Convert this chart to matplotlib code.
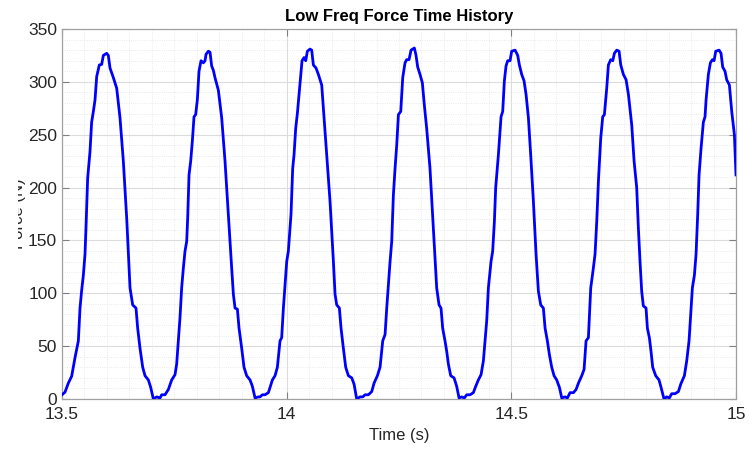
import matplotlib
matplotlib.use("Agg")
import matplotlib.pyplot as plt
from matplotlib.ticker import MultipleLocator
from matplotlib.patches import Rectangle

plt.rcParams['font.family'] = ['Liberation Sans', 'DejaVu Sans']

# values
time_s = [
    13.5, 13.5067, 13.5141, 13.5215, 13.5289, 13.5364, 13.5401, 13.5438, 13.5475, 13.5512,
    13.5534, 13.5571, 13.5623, 13.566, 13.5698, 13.5735, 13.5772, 13.5831, 13.5883, 13.592,
    13.5994, 13.6031, 13.6069, 13.6143, 13.6217, 13.6291, 13.6365, 13.644, 13.6514, 13.6573,
    13.6647, 13.6684, 13.6736, 13.6796, 13.6848, 13.6922, 13.6974, 13.7033, 13.7107, 13.7182,
    13.7219, 13.7293, 13.7367, 13.7441,
    13.7515, 13.7552, 13.7589, 13.7626, 13.7663, 13.7701, 13.7738, 13.7775, 13.7797, 13.7827,
    13.7864, 13.7901, 13.7938, 13.7975, 13.8012, 13.8049, 13.8094, 13.8146, 13.8183, 13.8205,
    13.8257, 13.8294, 13.8331, 13.8368, 13.8405, 13.848, 13.8554, 13.8628, 13.8702, 13.8776,
    13.8814, 13.8851, 13.8903, 13.894, 13.8999, 13.9051, 13.911, 13.9185, 13.9237, 13.9296,
    13.937, 13.9407, 13.9459, 13.9518, 13.9593, 13.963, 13.9682, 13.9741, 13.9793, 13.9852,
    13.9889, 13.9927, 13.9964, 14.0001, 14.0038,
    14.0097, 14.0134, 14.0164, 14.0201, 14.0238, 14.0275, 14.0312, 14.0342, 14.0387, 14.0424,
    14.0461, 14.052, 14.0557, 14.0594, 14.0654, 14.0706, 14.078, 14.0817, 14.0891, 14.0965,
    14.104, 14.1077, 14.1114, 14.1173, 14.121, 14.1262, 14.1314, 14.1374, 14.1448, 14.15,
    14.1559, 14.1633, 14.1693, 14.1745, 14.1819, 14.1893, 14.1945, 14.2019, 14.2078, 14.2138,
    14.219, 14.2227, 14.2264, 14.2301, 14.2338, 14.2375, 14.2412, 14.2449, 14.2487, 14.2539,
    14.2583,
    14.2634, 14.2671, 14.2723, 14.2768, 14.2842, 14.2879, 14.2916, 14.2968, 14.302, 14.3064,
    14.3116, 14.319, 14.3265, 14.3339, 14.3391, 14.3435, 14.3472, 14.3524, 14.3562, 14.3599,
    14.3651, 14.3725, 14.3784, 14.3836, 14.3895, 14.3955, 14.4007, 14.4081, 14.4155, 14.4207,
    14.4266, 14.4326, 14.4378, 14.4415, 14.4452, 14.4489, 14.4548, 14.4585, 14.4623, 14.4652,
    14.4712, 14.4771, 14.4808, 14.4845, 14.4882, 14.4919, 14.4971, 14.5008, 14.5083, 14.5142,
    14.5179,
    14.5231, 14.5283, 14.5328, 14.538, 14.5431, 14.5491, 14.555, 14.5602, 14.5654, 14.5713,
    14.5751, 14.5802, 14.5847, 14.5899, 14.5951, 14.601, 14.607, 14.6122, 14.6196, 14.6248,
    14.6307, 14.6381, 14.6441, 14.6493, 14.6567, 14.6619, 14.6663, 14.6715, 14.6767, 14.6826,
    14.6863, 14.6901, 14.6938, 14.699, 14.7034, 14.7071, 14.7123, 14.716, 14.7212, 14.7257,
    14.7294, 14.7346, 14.7398, 14.7435, 14.7494, 14.7554, 14.7606, 14.768, 14.7732,
    14.779, 14.7827, 14.7864, 14.7901, 14.7938, 14.7998, 14.8028, 14.8072, 14.8109,
    14.8146, 14.8213, 14.8287, 14.8332, 14.8398, 14.8458, 14.8517, 14.8569, 14.8643, 14.8718,
    14.877, 14.8851, 14.8903, 14.8955, 14.8992, 14.9029, 14.9074, 14.9111, 14.9148, 14.9178,
    14.9222, 14.9274, 14.9311, 14.9334, 14.9385, 14.943, 14.9475, 14.9512, 14.9549, 14.9623,
    14.9667, 14.9704, 14.9756, 14.9793, 14.9853, 14.9905, 14.9964, 15.0,
]
force_n = [
    4, 6.5, 15, 21.5, 39, 55, 86, 103, 117, 137,
    162, 209, 234, 262, 272, 283, 305, 316, 316.5, 325,
    327, 325, 313, 304, 294, 266, 225, 171, 105, 89,
    86, 67, 48, 30, 22, 18, 11, 0, 2, 1,
    4, 4, 9, 18,
    23, 33, 55, 77, 105, 124, 140, 149, 171, 212,
    225, 244, 267, 269, 283, 310, 320, 318, 320, 326,
    329, 328, 315, 311, 304, 292, 266, 225, 174, 124,
    99, 86, 85, 67, 48, 30, 22, 18, 12, 1,
    2, 2, 4, 4, 6, 11, 18, 22, 30, 55,
    58, 86, 108, 130, 140,
    175, 218, 231, 256, 270, 288, 307, 320, 323, 320,
    329, 331, 330, 316, 313, 307, 297, 275, 231, 187,
    130, 99, 89, 86, 67, 48, 30, 22, 20, 14,
    0, 2, 2, 4, 4, 7, 15, 22, 30, 55,
    61, 86, 108, 130, 149, 193, 218, 240, 269, 272,
    304,
    318, 321, 321, 330, 332, 325, 314, 307, 299, 278,
    256, 218, 162, 105, 89, 86, 67, 55, 45, 33,
    22, 20, 12, 1, 2, 1, 4, 4, 6, 12,
    18, 23, 36, 55, 74, 105, 130, 140, 168, 200,
    231, 267, 272, 301, 315, 320, 320, 329, 330, 325,
    316,
    307, 301, 288, 266, 231, 187, 137, 102, 89, 86,
    67, 55, 42, 30, 22, 18, 11, 1, 2, 1,
    6, 6, 9, 15, 22, 28, 55, 58, 105, 124,
    137, 168, 206, 247, 267, 269, 294, 316, 321, 320,
    327, 330, 329, 316, 307, 302, 288, 259, 225,
    200, 162, 130, 102, 88, 86, 67, 58, 45,
    30, 22, 18, 11, 0, 2, 1, 5, 5, 7,
    14, 22, 36, 55, 80, 105, 117, 137, 175, 212,
    237, 262, 267, 283, 307, 318, 321, 320, 329, 330,
    327, 314, 310, 302, 297, 272, 250, 212,
]

title = 'Low Freq Force Time History'
x_label = 'Time (s)'
y_label = 'Force (N)'
x_ticks = [13.5, 14, 14.5, 15]
x_tick_labels = ['13.5', '14', '14.5', '15']
y_ticks = [0, 50, 100, 150, 200, 250, 300, 350]

fig = plt.figure(figsize=(7.49, 4.53), dpi=100)
ax = fig.add_axes([62 / 749, 54 / 453, 674 / 749, 370 / 453])

ax.plot(time_s, force_n, color=(0, 0, 1), lw=2.0, zorder=3)

ax.set_xlim(13.5, 15)
ax.set_ylim(0, 350)
ax.set_xticks(x_ticks)
ax.set_xticklabels(x_tick_labels)
ax.set_yticks(y_ticks)
ax.xaxis.set_minor_locator(MultipleLocator(0.05))
ax.yaxis.set_minor_locator(MultipleLocator(10))

ax.grid(True, which='major', color='#dcdcdc', lw=0.8, ls='-')
ax.grid(True, which='minor', color='#e4e4e4', lw=0.6, ls=':')
ax.set_axisbelow(True)

for s in ax.spines.values():
    s.set_color('#a0a0a0')
    s.set_linewidth(0.9)
ax.tick_params(which='both', direction='in', top=True, right=True,
               colors='#808080', labelcolor='#262626', labelsize=12.5)
ax.tick_params(which='major', length=5)
ax.tick_params(which='minor', length=0)
ax.tick_params(axis='x', pad=6)

ax.set_title(title, fontsize=12, fontweight='bold', color='black', pad=6)
ax.set_xlabel(x_label, fontsize=12, color='#262626', labelpad=4)
ax.set_ylabel(y_label, fontsize=12, color='#262626')
ax.yaxis.set_label_coords(-0.054, 0.5)

# the reference has the left half of the y label hidden
fig.add_artist(Rectangle((0, 0), 18 / 749, 1, transform=fig.transFigure,
                         facecolor='white', edgecolor='none', zorder=10))

fig.savefig('out.png', dpi=100)
